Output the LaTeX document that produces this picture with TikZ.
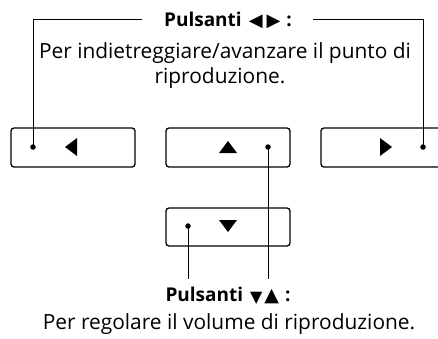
\documentclass[tikz,border=0pt]{standalone}
\usepackage{fontspec}
\setmainfont{Open Sans}
\newfontfamily\symfont{DejaVu Sans}
\begin{document}
\begin{tikzpicture}[x=1pt,y=-1pt,
  btn/.style={draw,line width=1.3pt,rounded corners=3pt},
  lead/.style={line width=1pt},
  pin/.style={circle,fill,inner sep=0pt,minimum size=5.5pt},
  title/.style={font=\fontsize{19}{20}\selectfont\bfseries,inner sep=0pt,anchor=base},
  body/.style={font=\fontsize{20.9}{25}\selectfont,inner sep=0pt,anchor=base}]
\useasboundingbox (0,0) rectangle (438,338);
% buttons
\draw[btn] (11,128) rectangle (135,167);
\draw[btn] (166,128) rectangle (290,167);
\draw[btn] (321,128) rectangle (450,167);
\draw[btn] (166,208) rectangle (290,246);
% symbols
\fill (65,147) -- (77,138) -- (77,156) -- cycle;
\fill (219,153) -- (237,153) -- (228,141) -- cycle;
\fill (392,147) -- (380,138) -- (380,156) -- cycle;
\fill (219,220) -- (237,220) -- (228,232) -- cycle;
% pins
\node[pin] (pl) at (33,147) {};
\node[pin] (pu) at (268,147) {};
\node[pin] (pr) at (423,147) {};
\node[pin] (pd) at (188,226) {};
% texts
\node[title] (t1) at (228,26) {Pulsanti\hspace{7pt}{\symfont\fontsize{18}{18}\selectfont ◀\hspace{4pt}▶}\hspace{6pt}:};
\node[body] (b1) at (225,58) {Per indietreggiare/avanzare il punto di};
\node[body] (b1b) at (220,83) {riproduzione.};
\node[title] (t2) at (228,301) {Pulsanti\hspace{7pt}{\symfont\raisebox{-1.5pt}{\fontsize{16}{16}\selectfont▼}\hspace{2pt}\fontsize{19}{19}\selectfont▲}\hspace{6pt}:};
\node[body] (b2) at (229,329) {Per regolare il volume di riproduzione.};
% leaders
\coordinate (tl) at (142,19);
\coordinate (tr) at (313,19);
\coordinate (bu) at (268,279);
\coordinate (bd) at (188,279);
\draw[lead] (tl) -- (33,19) -- (pl.center);
\draw[lead] (tr) -- (423,19) -- (pr.center);
\draw[lead] (pu.center) -- (bu);
\draw[lead] (pd.center) -- (bd);
\end{tikzpicture}
\end{document}
